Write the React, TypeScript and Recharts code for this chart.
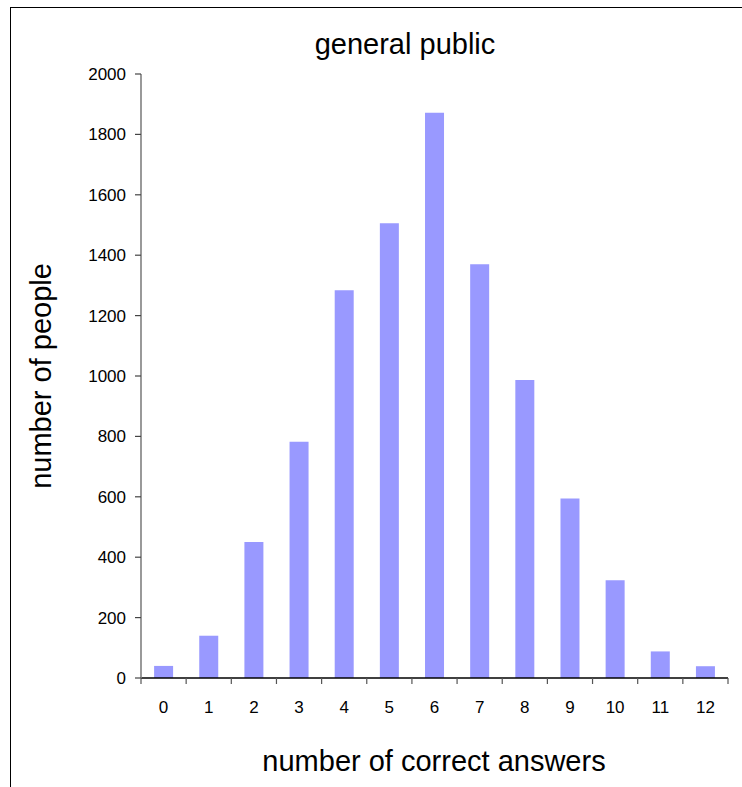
import React from "react";
import { BarChart, Bar, XAxis, YAxis } from "recharts";

const categories = ["0", "1", "2", "3", "4", "5", "6", "7", "8", "9", "10", "11", "12"];
const people = [40, 140, 450, 782, 1284, 1506, 1872, 1370, 987, 594, 324, 88, 39];
const yTicks = [0, 200, 400, 600, 800, 1000, 1200, 1400, 1600, 1800, 2000];
const chartTitle = "general public";
const xTitle = "number of correct answers";
const yTitle = "number of people";

const data = categories.map((c, i) => ({ name: c, value: people[i] }));

const FONT = "'Liberation Sans', Arial, sans-serif";
const X_TICK_SIZE = 6;
const X_TICK_MARGIN = 17;

const XTick = (props: any) => {
  const { x, y, payload, index, visibleTicksCount } = props;
  const half = payload && typeof payload.offset === "number" ? payload.offset : 0;
  const axisY = y - X_TICK_SIZE - X_TICK_MARGIN;
  const last = index === visibleTicksCount - 1;
  return (
    <g>
      <line x1={x - half} x2={x - half} y1={axisY} y2={axisY + X_TICK_SIZE} stroke="#555" strokeWidth={1.2} />
      {last && (
        <line x1={x + half} x2={x + half} y1={axisY} y2={axisY + X_TICK_SIZE} stroke="#555" strokeWidth={1.2} />
      )}
      <text x={x} y={y} dy="0.71em" textAnchor="middle" fill="#000" fontSize={17} fontFamily={FONT}>
        {payload.value}
      </text>
    </g>
  );
};

export default function App() {
  return (
    <div style={{ position: "absolute", left: 0, top: 0, width: 742, height: 787, background: "#fff", overflow: "hidden" }}>
      <div
        style={{
          position: "absolute",
          left: 10,
          top: 7,
          width: 900,
          height: 900,
          borderLeft: "1.6px solid #000",
          borderTop: "1.6px solid #000",
        }}
      />
      <div style={{ position: "absolute", left: 0, top: 0 }}>
        <BarChart
          width={742}
          height={787}
          data={data}
          margin={{ top: 74, right: 14, bottom: 69, left: 81 }}
          barCategoryGap="29%"
        >
          <XAxis
            dataKey="name"
            type="category"
            height={40}
            axisLine={{ stroke: "#000", strokeWidth: 1.4 }}
            tickLine={false}
            tickSize={X_TICK_SIZE}
            tickMargin={X_TICK_MARGIN}
            tick={<XTick />}
            interval={0}
          />
          <YAxis
            type="number"
            domain={[0, 2000]}
            ticks={yTicks}
            width={60}
            interval={0}
            axisLine={{ stroke: "#808080", strokeWidth: 1.6 }}
            tickLine={{ stroke: "#444", strokeWidth: 1.2 }}
            tickSize={6}
            tickMargin={9}
            tick={{ fill: "#000", fontSize: 17, fontFamily: FONT }}
          />
          <Bar dataKey="value" fill="#9999FF" isAnimationActive={false} />
        </BarChart>
      </div>
      <svg width={742} height={787} style={{ position: "absolute", left: 0, top: 0, pointerEvents: "none" }}>
        <text x={405} y={54} textAnchor="middle" fontSize={29} fontFamily={FONT} fill="#000">
          {chartTitle}
        </text>
        <text x={434} y={771} textAnchor="middle" fontSize={29} fontFamily={FONT} fill="#000">
          {xTitle}
        </text>
        <text
          x={0}
          y={0}
          transform="translate(51,376) rotate(-90)"
          textAnchor="middle"
          fontSize={29}
          fontFamily={FONT}
          fill="#000"
        >
          {yTitle}
        </text>
      </svg>
    </div>
  );
}
